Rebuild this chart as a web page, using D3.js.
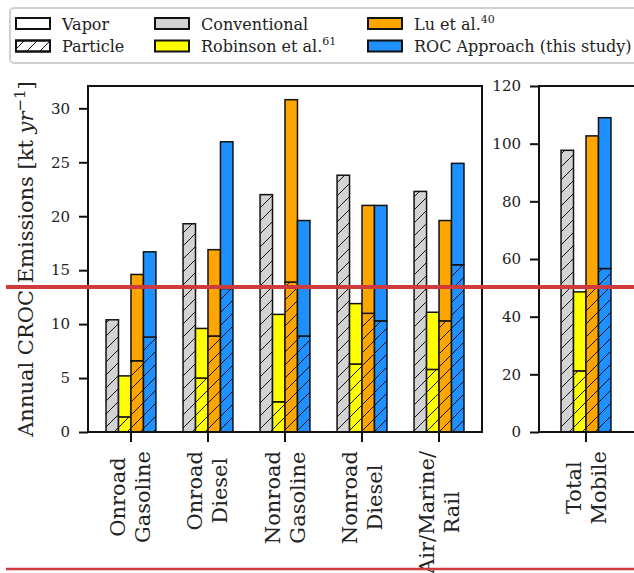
<!DOCTYPE html>
<html><head><meta charset="utf-8">
<script src="https://cdn.jsdelivr.net/npm/d3@7"></script>
<style>body{margin:0;background:#fff}svg{display:block}text{font-family:"DejaVu Serif",serif;fill:#222}</style>
</head><body><svg id="c" width="634" height="573"></svg>
<script>
// ---- data ----
const categories = [["Onroad","Gasoline"],["Onroad","Diesel"],["Nonroad","Gasoline"],["Nonroad","Diesel"],["Air/Marine/","Rail"]];
const conventional = [10.4, 19.3, 22.0, 23.8, 22.3];
const robinsonTotal = [5.2, 9.6, 10.9, 11.9, 11.1];
const robinsonParticle = [1.4, 5.0, 2.8, 6.3, 5.8];
const luTotal = [14.6, 16.9, 30.8, 21.0, 19.6];
const luParticle = [6.6, 8.9, 13.9, 11.0, 10.3];
const rocTotal = [16.7, 26.9, 19.6, 21.0, 24.9];
const rocParticle = [8.8, 13.3, 8.9, 10.3, 15.5];
const totalCategory = [["Total","Mobile"]];
const totalConventional = [97.7];
const totalRobinson = [48.6], totalRobinsonParticle = [21.2];
const totalLu = [102.7], totalLuParticle = [50.6];
const totalRoc = [109.0], totalRocParticle = [56.7];
const leftTicks = [0,5,10,15,20,25,30];
const rightTicks = [0,20,40,60,80,100,120];

const colors = {conv:"#d3d3d3", rob:"#ffff00", lu:"#ffa500", roc:"#1e90ff"};

const svg = d3.select("#c");
const defs = svg.append("defs");
const P = 13;
defs.append("pattern").attr("id","hatch").attr("patternUnits","userSpaceOnUse")
  .attr("width",P).attr("height",P)
  .append("path").attr("d",`M0,${P} L${P},0 M${-P/2},${P/2} L${P/2},${-P/2} M${P/2},${P*1.5} L${P*1.5},${P/2}`)
  .attr("stroke","#111").attr("stroke-width",1);

const plotTop = 86, plotBottom = 432;
const yL = d3.scaleLinear().domain([0, 32.07]).range([plotBottom, plotTop]);
const yR = d3.scaleLinear().domain([0, 120]).range([plotBottom, plotTop]);
const xL = d3.scaleLinear().domain([-0.558, 4.558]).range([88, 482]);
const xR = d3.scaleLinear().domain([-0.61, 0.61]).range([539, 633]);
const bw = 0.162;

function drawPanel(x, y, n, series, cats, ticks, x0, x1) {
  const g = svg.append("g");
  series.forEach((s, si) => {
    const off = (si - 1.5) * bw;
    for (let i = 0; i < n; i++) {
      const xa = x(i + off - bw/2), xb = x(i + off + bw/2);
      const tot = s.total[i], par = s.particle[i];
      g.append("rect").attr("x",xa).attr("y",y(par)).attr("width",xb-xa).attr("height",y(0)-y(par))
        .attr("fill",s.color);
      g.append("rect").attr("x",xa).attr("y",y(par)).attr("width",xb-xa).attr("height",y(0)-y(par))
        .attr("fill","url(#hatch)").attr("stroke","#111").attr("stroke-width",1.5);
      if (tot > par) {
        g.append("rect").attr("x",xa).attr("y",y(tot)).attr("width",xb-xa).attr("height",y(par)-y(tot))
          .attr("fill",s.color).attr("stroke","#111").attr("stroke-width",1.5);
      }
    }
  });
  g.append("rect").attr("x",x0).attr("y",plotTop).attr("width",x1-x0).attr("height",plotBottom-plotTop)
    .attr("fill","none").attr("stroke","#111").attr("stroke-width",2);
  const ya = g.append("g").attr("transform",`translate(${x0},0)`)
    .call(d3.axisLeft(y).tickValues(ticks).tickSize(9).tickPadding(9).tickFormat(d3.format("d")));
  ya.select(".domain").remove();
  ya.selectAll("line").attr("stroke","#111").attr("stroke-width",2);
  ya.selectAll("text").attr("font-size",15).attr("font-family","DejaVu Serif").attr("fill","#222");
  for (let i = 0; i < n; i++) {
    const tx = x(i);
    g.append("line").attr("x1",tx).attr("x2",tx).attr("y1",plotBottom).attr("y2",plotBottom+10)
      .attr("stroke","#111").attr("stroke-width",2);
    const lines = cats[i];
    const lg = g.append("g");
    const texts = lines.map((l) => lg.append("text").attr("font-size",21).attr("text-anchor","middle")
      .attr("dominant-baseline","central").text(l));
    const L = d3.max(texts, t => t.node().getComputedTextLength());
    const lh = 25;
    lg.attr("transform",`translate(${tx},${plotBottom+19+L/2}) rotate(-90)`);
    texts.forEach((t, li) => t.attr("x",0).attr("y",(li - (lines.length-1)/2) * lh));
  }
}

drawPanel(xL, yL, 5, [
  {total: conventional, particle: conventional, color: colors.conv},
  {total: robinsonTotal, particle: robinsonParticle, color: colors.rob},
  {total: luTotal, particle: luParticle, color: colors.lu},
  {total: rocTotal, particle: rocParticle, color: colors.roc}
], categories, leftTicks, 88, 482);

drawPanel(xR, yR, 1, [
  {total: totalConventional, particle: totalConventional, color: colors.conv},
  {total: totalRobinson, particle: totalRobinsonParticle, color: colors.rob},
  {total: totalLu, particle: totalLuParticle, color: colors.lu},
  {total: totalRoc, particle: totalRocParticle, color: colors.roc}
], totalCategory, rightTicks, 539, 636);

const yl = svg.append("text").attr("transform",`translate(33,259) rotate(-90)`)
  .attr("text-anchor","middle").attr("font-size",21);
yl.append("tspan").text("Annual CROC Emissions [kt ");
yl.append("tspan").attr("font-style","italic").text("yr");
yl.append("tspan").attr("font-size",15).attr("dy",-8).text("\u22121");
yl.append("tspan").attr("dy",8).text("]");

const lg = svg.append("g");
lg.append("rect").attr("x",10).attr("y",8).attr("width",640).attr("height",55).attr("rx",4)
  .attr("fill","#fff").attr("stroke","#d0d0d0").attr("stroke-width",2);
const legendItems = [
  {label:["Vapor"], fill:"#fff", hatch:false, x:16, row:0},
  {label:["Particle"], fill:"#fff", hatch:true, x:16, row:1},
  {label:["Conventional"], fill:colors.conv, hatch:false, x:155, row:0},
  {label:["Robinson et al.","61"], fill:colors.rob, hatch:false, x:155, row:1},
  {label:["Lu et al.","40"], fill:colors.lu, hatch:false, x:368, row:0},
  {label:["ROC Approach (this study)"], fill:colors.roc, hatch:false, x:368, row:1}
];
legendItems.forEach(it => {
  const yy = 18 + it.row * 22.5;
  lg.append("rect").attr("x",it.x).attr("y",yy).attr("width",34).attr("height",11)
    .attr("fill",it.fill).attr("stroke","#111").attr("stroke-width",2);
  if (it.hatch) lg.append("rect").attr("x",it.x).attr("y",yy).attr("width",34).attr("height",11)
    .attr("fill","url(#hatch)").attr("stroke","#111").attr("stroke-width",2);
  const t = lg.append("text").attr("x",it.x+46).attr("y",yy+11.5).attr("font-size",16);
  t.append("tspan").text(it.label[0]);
  if (it.label[1]) t.append("tspan").attr("font-size",11).attr("dy",-7).text(it.label[1]);
});

svg.append("line").attr("x1",6).attr("x2",634).attr("y1",287).attr("y2",287)
  .attr("stroke","#cf3a3c").attr("stroke-width",4);
svg.append("line").attr("x1",6).attr("x2",634).attr("y1",569).attr("y2",569)
  .attr("stroke","#cf3a3c").attr("stroke-width",2.5);
</script></body></html>
